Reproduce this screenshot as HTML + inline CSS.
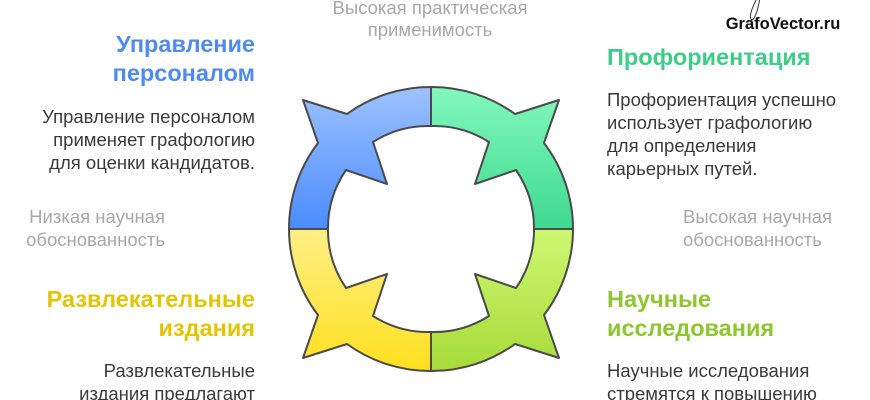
<!DOCTYPE html>
<html><head><meta charset="utf-8"><style>
html,body{margin:0;padding:0;background:#fff;}
svg{display:block;}
text{font-family:"Liberation Sans",Arial,sans-serif;}
.t{font-size:23.5px;font-weight:bold;}
.b{font-size:18.5px;fill:#3a3a3a;}
.g{font-size:18.5px;fill:#a8a8a8;}
</style></head><body>
<svg width="870" height="400" viewBox="0 0 870 400" xmlns="http://www.w3.org/2000/svg">
<defs>
<linearGradient id="gb" x1="0" y1="0" x2="0" y2="1"><stop offset="0" stop-color="#9dc2ff"/><stop offset="1" stop-color="#4a8cff"/></linearGradient>
<linearGradient id="gg" x1="0" y1="0" x2="0" y2="1"><stop offset="0" stop-color="#82f8bd"/><stop offset="1" stop-color="#3ed98f"/></linearGradient>
<linearGradient id="gl" x1="0" y1="1" x2="0" y2="0"><stop offset="0" stop-color="#cff772"/><stop offset="1" stop-color="#a6db38"/></linearGradient>
<linearGradient id="gy" x1="0" y1="1" x2="0" y2="0"><stop offset="0" stop-color="#ffef85"/><stop offset="1" stop-color="#ffe01e"/></linearGradient>
<path id="seg" d="M431,87 A142,142 0 0 0 347,114 L303,100 L318,143 A142,142 0 0 0 289,229 L328,229 A103,103 0 0 1 346,170 L387,184 L373,142 A103,103 0 0 1 431,126 Z"/>
</defs>
<g stroke="#4a4a4a" stroke-width="2" stroke-linejoin="round">
<use href="#seg" fill="url(#gb)"/>
<g transform="translate(862,0) scale(-1,1)"><use href="#seg" fill="url(#gg)"/></g>
<g transform="translate(0,458) scale(1,-1)"><use href="#seg" fill="url(#gy)"/></g>
<g transform="translate(862,458) scale(-1,-1)"><use href="#seg" fill="url(#gl)"/></g>
</g>
<text class="g" x="430" y="14" text-anchor="middle">Высокая практическая</text>
<text class="g" x="430" y="36" text-anchor="middle">применимость</text>
<path d="M757,-2 C752,8 748,18 752,20 C756,18 758,8 760,-2" fill="none" stroke="#333" stroke-width="1"/>
<text x="783" y="29" text-anchor="middle" style="font-size:16.5px;font-weight:bold;fill:#111">GrafoVector.ru</text>

<text class="t" x="255" y="52" text-anchor="end" fill="#4f8af0">Управление</text>
<text class="t" x="255" y="81" text-anchor="end" fill="#4f8af0">персоналом</text>
<text class="b" x="255" y="123" text-anchor="end">Управление персоналом</text>
<text class="b" x="255" y="146" text-anchor="end">применяет графологию</text>
<text class="b" x="255" y="169" text-anchor="end">для оценки кандидатов.</text>
<text class="g" x="165" y="223" text-anchor="end">Низкая научная</text>
<text class="g" x="165" y="246" text-anchor="end">обоснованность</text>
<text class="t" x="255" y="307" text-anchor="end" fill="#e2c400">Развлекательные</text>
<text class="t" x="255" y="336" text-anchor="end" fill="#e2c400">издания</text>
<text class="b" x="255" y="377" text-anchor="end">Развлекательные</text>
<text class="b" x="255" y="400" text-anchor="end">издания предлагают</text>

<text class="t" x="607" y="65" fill="#3fcc88">Профориентация</text>
<text class="b" x="607" y="106">Профориентация успешно</text>
<text class="b" x="607" y="129">использует графологию</text>
<text class="b" x="607" y="152">для определения</text>
<text class="b" x="607" y="175">карьерных путей.</text>
<text class="g" x="683" y="223">Высокая научная</text>
<text class="g" x="683" y="246">обоснованность</text>
<text class="t" x="607" y="307" fill="#8dc630">Научные</text>
<text class="t" x="607" y="336" fill="#8dc630">исследования</text>
<text class="b" x="607" y="377">Научные исследования</text>
<text class="b" x="607" y="400">стремятся к повышению</text>
</svg>
</body></html>
